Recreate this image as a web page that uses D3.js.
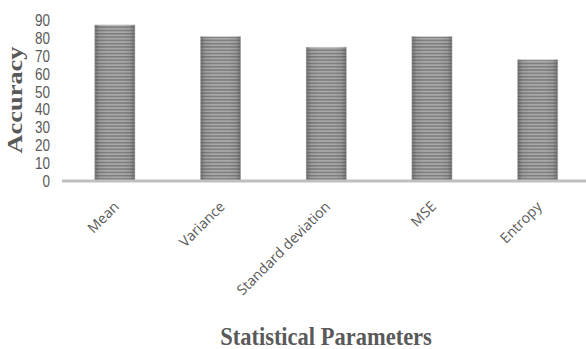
<!DOCTYPE html>
<html>
<head>
<meta charset="utf-8">
<script src="https://cdn.jsdelivr.net/npm/d3@7"></script>
<style>
  html, body { margin: 0; padding: 0; background: #fff; }
  svg { display: block; }
</style>
</head>
<body>
<svg id="chart" width="586" height="349"></svg>
<script>
// Accuracy obtained with each statistical parameter
const categories = ["Mean", "Variance", "Standard deviation", "MSE", "Entropy"];
const accuracy = [87.5, 81, 75, 81, 68];
const yTicks = [0, 10, 20, 30, 40, 50, 60, 70, 80, 90];
const yTitle = "Accuracy";
const xTitle = "Statistical Parameters";

const svg = d3.select("#chart");
const textColor = "#595959";

const x = d3.scaleBand()
  .domain(categories)
  .range([62, 590.5])
  .paddingInner(0.62)
  .paddingOuter(0.31);

const y = d3.scaleLinear()
  .domain([0, 90])
  .range([181, 20.5]);

// Striped bar fill with darker vertical edges
const defs = svg.append("defs");
const stripes = defs.append("pattern")
  .attr("id", "stripes")
  .attr("patternUnits", "userSpaceOnUse")
  .attr("width", 8)
  .attr("height", 3.3);
stripes.append("rect").attr("width", 8).attr("height", 3.3).attr("fill", "#a9a9a9");
stripes.append("rect").attr("y", 0).attr("width", 8).attr("height", 1.5).attr("fill", "#7c7c7c");

const edge = defs.append("linearGradient")
  .attr("id", "edgeShade")
  .attr("x1", "0").attr("x2", "1").attr("y1", "0").attr("y2", "0");
[
  [0, 0.45], [0.12, 0.1], [0.3, 0], [0.7, 0], [0.88, 0.1], [1, 0.45]
].forEach(([o, a]) => {
  edge.append("stop").attr("offset", o).attr("stop-color", "#3a3a3a").attr("stop-opacity", a);
});

const bars = svg.append("g").selectAll("g")
  .data(categories.map((c, i) => ({ c, v: accuracy[i] })))
  .join("g");

bars.append("rect")
  .attr("x", d => x(d.c))
  .attr("y", d => y(d.v))
  .attr("width", x.bandwidth())
  .attr("height", d => y(0) - y(d.v))
  .attr("fill", "url(#stripes)")
  .attr("stroke", "#d4d4d4")
  .attr("stroke-width", 0.8);

bars.append("rect")
  .attr("x", d => x(d.c))
  .attr("y", d => y(d.v))
  .attr("width", x.bandwidth())
  .attr("height", d => y(0) - y(d.v))
  .attr("fill", "url(#edgeShade)");

// Baseline
svg.append("line")
  .attr("x1", 62).attr("x2", 586)
  .attr("y1", y(0)).attr("y2", y(0))
  .attr("stroke", "#bfbfbf")
  .attr("stroke-width", 3);

// Y axis tick labels
const yAxis = svg.append("g")
  .attr("transform", "translate(50,0)")
  .call(d3.axisLeft(y).tickValues(yTicks).tickSize(0).tickPadding(0));
yAxis.select(".domain").remove();
yAxis.selectAll("text")
  .attr("fill", textColor)
  .attr("font-family", "'Liberation Sans Narrow', 'Liberation Sans', Arial, sans-serif")
  .attr("font-size", 13.5)
  .attr("transform", "scale(1,1.2)");

// X axis labels, rotated
svg.append("g").selectAll("text")
  .data(categories)
  .join("text")
  .attr("transform", d => `translate(${x(d) + x.bandwidth() / 2 + 1.5},204) rotate(-45)`)
  .attr("text-anchor", "end")
  .attr("dy", "0.35em")
  .attr("fill", textColor)
  .attr("font-family", "'Open Sans', 'Liberation Sans', sans-serif")
  .attr("font-size", 14.2)
  .text(d => d);

// Axis titles
svg.append("text")
  .attr("transform", "translate(22,100) rotate(-90) scale(1.2,1)")
  .attr("text-anchor", "middle")
  .attr("fill", textColor)
  .attr("font-family", "'Liberation Serif', 'Times New Roman', serif")
  .attr("font-weight", "bold")
  .attr("font-size", 22)
  .text(yTitle);

svg.append("text")
  .attr("transform", "translate(326,345) scale(1,1.15)")
  .attr("text-anchor", "middle")
  .attr("fill", textColor)
  .attr("font-family", "'Liberation Serif', 'Times New Roman', serif")
  .attr("font-weight", "bold")
  .attr("font-size", 22.5)
  .text(xTitle);
</script>
</body>
</html>
